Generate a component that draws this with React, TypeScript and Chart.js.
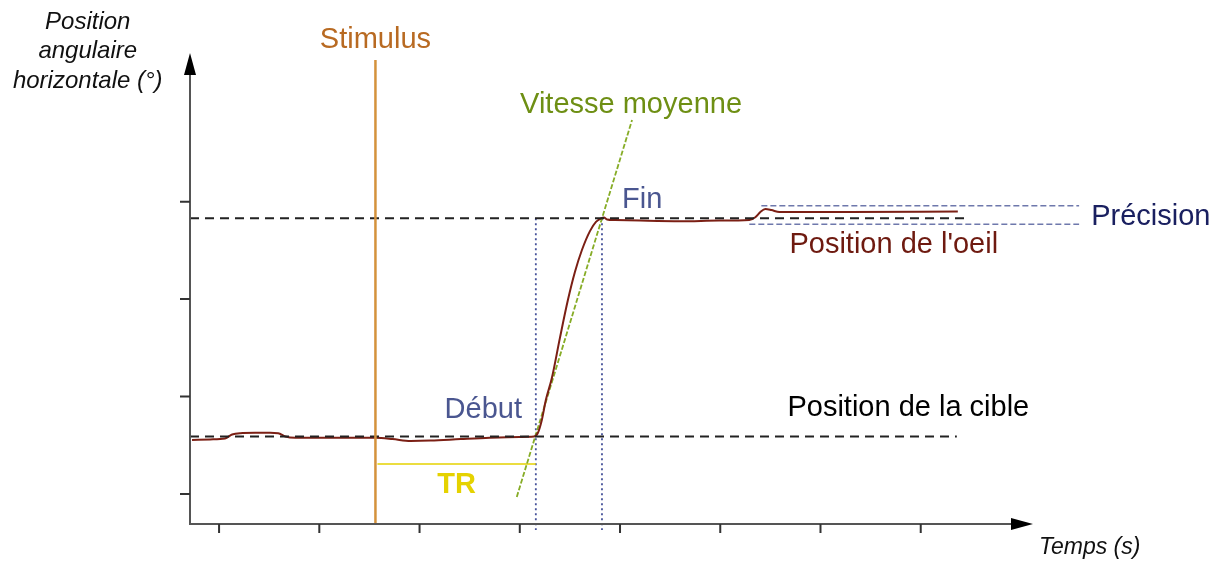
import { useEffect, useRef } from "react";
import { Chart, registerables } from "chart.js";
Chart.register(...registerables);

// Time axis (ms) and angle axis (deg)
const xTickValues = [100, 200, 300, 400, 500, 600, 700, 800];
const yTickValues = [5, 10, 15, 20];

// Eye position trace
const eyeTime = [73, 91, 106, 113, 121, 136, 151, 159, 166, 176, 221, 256, 273, 291, 311, 341, 370, 400, 414, 418, 422, 426, 432, 440, 448, 455, 462, 470, 476, 481, 484, 487, 495, 520, 560, 599, 629, 635, 640, 645, 651, 659, 728, 837];
const eyeAngle = [7.77, 7.8, 7.85, 8.05, 8.12, 8.14, 8.14, 8.12, 7.95, 7.88, 7.88, 7.88, 7.82, 7.72, 7.74, 7.82, 7.89, 7.93, 7.95, 8.13, 8.8, 9.82, 10.95, 13.0, 14.95, 16.39, 17.52, 18.49, 18.96, 19.14, 19.19, 19.09, 19.06, 19.03, 19.0, 19.03, 19.06, 19.2, 19.47, 19.62, 19.57, 19.47, 19.47, 19.5];

// Target positions
const targetLowTime = [71, 836];
const targetLowAngle = [7.95, 7.95];
const targetHighTime = [71, 847];
const targetHighAngle = [19.15, 19.15];

// Event markers
const stimulusTime = [256, 256];
const stimulusAngle = [3.46, 27.27];
const trTime = [258, 416];
const trAngle = [6.54, 6.54];
const debutTime = [416, 416];
const debutAngle = [19.15, 3.15];
const finTime = [482, 482];
const finAngle = [19.15, 3.15];
const speedTime = [397, 512];
const speedAngle = [4.85, 24.19];
const precisionHighTime = [641, 958];
const precisionHighAngle = [19.79, 19.79];
const precisionLowTime = [629, 958];
const precisionLowAngle = [18.84, 18.84];

const pts = (xs: number[], ys: number[]) => xs.map((x, i) => ({ x, y: ys[i] }));

const FONT = '"Liberation Sans", Arial, sans-serif';

type Label = { text: string; x: number; y: number; align: CanvasTextAlign; color: string; font: string };
const labels: Label[] = [
  { text: "Stimulus", x: 256, y: 28.3, align: "center", color: "#B86A22", font: `29px ${FONT}` },
  { text: "Vitesse moyenne", x: 511, y: 24.96, align: "center", color: "#6E8F14", font: `29px ${FONT}` },
  { text: "Fin", x: 502, y: 20.08, align: "left", color: "#4A5690", font: `29px ${FONT}` },
  { text: "Précision", x: 970, y: 19.22, align: "left", color: "#1A2060", font: `29px ${FONT}` },
  { text: "Position de l'oeil", x: 669, y: 17.78, align: "left", color: "#6E1A10", font: `29px ${FONT}` },
  { text: "Début", x: 325, y: 9.31, align: "left", color: "#4A5690", font: `29px ${FONT}` },
  { text: "Position de la cible", x: 667, y: 9.41, align: "left", color: "#000000", font: `29px ${FONT}` },
  { text: "TR", x: 337, y: 5.46, align: "center", color: "#E5D200", font: `bold 29px ${FONT}` },
  { text: "Temps (s)", x: 918, y: 2.25, align: "left", color: "#111111", font: `italic 23px ${FONT}` },
  { text: "Position", x: -31, y: 29.2, align: "center", color: "#111111", font: `italic 24px ${FONT}` },
  { text: "angulaire", x: -31, y: 27.72, align: "center", color: "#111111", font: `italic 24px ${FONT}` },
  { text: "horizontale (°)", x: -31, y: 26.2, align: "center", color: "#111111", font: `italic 24px ${FONT}` },
];

const axesPlugin = {
  id: "axesPlugin",
  afterDraw(chart: any) {
    const ctx = chart.ctx as CanvasRenderingContext2D;
    const xs = chart.scales.x;
    const ys = chart.scales.y;
    const { left, right, top, bottom } = chart.chartArea;
    ctx.save();
    ctx.strokeStyle = "#555555";
    ctx.lineWidth = 2;
    ctx.beginPath();
    ctx.moveTo(left, bottom + 1);
    ctx.lineTo(left, top + 20);
    ctx.moveTo(left - 1, bottom);
    ctx.lineTo(right - 20, bottom);
    ctx.stroke();
    // arrowheads
    ctx.fillStyle = "#000000";
    ctx.beginPath();
    ctx.moveTo(left, top);
    ctx.lineTo(left - 6, top + 22);
    ctx.lineTo(left + 6, top + 22);
    ctx.closePath();
    ctx.fill();
    ctx.beginPath();
    ctx.moveTo(right, bottom);
    ctx.lineTo(right - 22, bottom - 6);
    ctx.lineTo(right - 22, bottom + 6);
    ctx.closePath();
    ctx.fill();
    // tick marks
    ctx.strokeStyle = "#333333";
    ctx.lineWidth = 2;
    ctx.beginPath();
    xTickValues.forEach((v) => {
      const p = xs.getPixelForValue(v);
      ctx.moveTo(p, bottom);
      ctx.lineTo(p, bottom + 9);
    });
    yTickValues.forEach((v) => {
      const p = ys.getPixelForValue(v);
      ctx.moveTo(left, p);
      ctx.lineTo(left - 10, p);
    });
    ctx.stroke();
    // labels
    ctx.textBaseline = "middle";
    labels.forEach((l) => {
      ctx.font = l.font;
      ctx.fillStyle = l.color;
      ctx.textAlign = l.align;
      ctx.fillText(l.text, xs.getPixelForValue(l.x), ys.getPixelForValue(l.y));
    });
    ctx.restore();
  },
};

export default function App() {
  const ref = useRef<HTMLCanvasElement | null>(null);
  useEffect(() => {
    if (!ref.current) return;
    const line = (data: any, color: string, width: number, dash: number[] = [], extra: any = {}) => ({
      data,
      borderColor: color,
      borderWidth: width,
      borderDash: dash,
      showLine: true,
      pointRadius: 0,
      fill: false,
      clip: false,
      ...extra,
    });
    const chart = new Chart(ref.current, {
      type: "scatter",
      data: {
        datasets: [
          line(pts(stimulusTime, stimulusAngle), "#D4923C", 2.5),
          line(pts(targetLowTime, targetLowAngle), "#222222", 2, [9, 6]),
          line(pts(targetHighTime, targetHighAngle), "#222222", 2, [9, 6]),
          line(pts(eyeTime, eyeAngle), "#7B1F14", 2, [], { cubicInterpolationMode: "monotone" }),
          line(pts(speedTime, speedAngle), "#86AC26", 1.8, [5, 2]),
          line(pts(trTime, trAngle), "#E5D200", 1.5),
          line(pts(debutTime, debutAngle), "#46529A", 1.8, [2, 3]),
          line(pts(finTime, finAngle), "#46529A", 1.8, [2, 3]),
          line(pts(precisionHighTime, precisionHighAngle), "#6E78AC", 1.4, [6, 3]),
          line(pts(precisionLowTime, precisionLowAngle), "#6E78AC", 1.4, [6, 3]),
        ] as any,
      },
      options: {
        animation: false,
        responsive: false,
        layout: { padding: { left: 190, right: 189, top: 53, bottom: 39 } },
        scales: {
          x: { type: "linear", min: 71, max: 912, display: false },
          y: { type: "linear", min: 3.46, max: 27.63, display: false },
        },
        plugins: { legend: { display: false }, tooltip: { enabled: false } },
        events: [],
      },
      plugins: [axesPlugin],
    });
    return () => chart.destroy();
  }, []);
  return (
    <div style={{ position: "fixed", left: 0, top: 0, width: 1222, height: 563, background: "#ffffff" }}>
      <canvas ref={ref} width={1222} height={563} style={{ display: "block", width: 1222, height: 563 }} />
    </div>
  );
}
